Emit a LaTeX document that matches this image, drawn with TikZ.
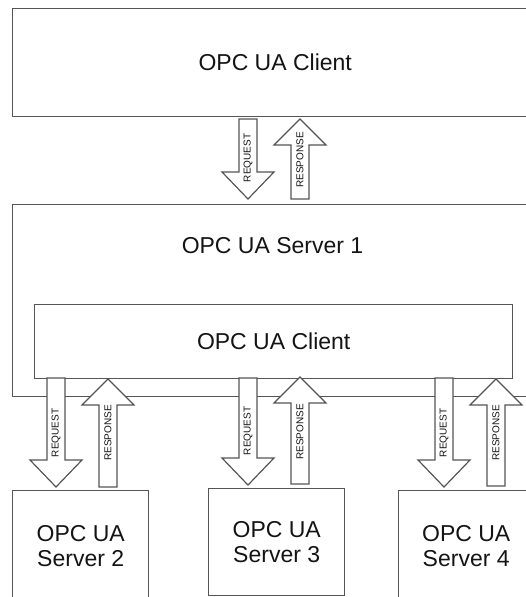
\documentclass[tikz,border=0pt]{standalone}
\usepackage{fontspec}
\setmainfont{Liberation Sans}
\definecolor{edge}{RGB}{85,85,85}
\definecolor{txt}{RGB}{20,20,20}
% request arrow: cx, top, tip, label y, name
\newcommand\reqarrow[5]{%
  \draw[blockarrow] (#1-9,#2) -- (#1+9,#2) -- (#1+9,#3-27) -- (#1+26,#3-27) -- (#1,#3)
     -- (#1-26,#3-27) -- (#1-9,#3-27) -- cycle;
  \node[arrowtext] (#5) at (#1,#4) {REQUEST};}
% response arrow: cx, tip, bottom, label y, name
\newcommand\resarrow[5]{%
  \draw[blockarrow] (#1-9,#3) -- (#1+9,#3) -- (#1+9,#2+26) -- (#1+26,#2+26) -- (#1,#2)
     -- (#1-26,#2+26) -- (#1-9,#2+26) -- cycle;
  \node[arrowtext] (#5) at (#1,#4) {RESPONSE};}
\begin{document}
\begin{tikzpicture}[x=1pt,y=-1pt,
  box/.style={draw=edge,line width=1.4pt,fill=white,inner sep=0pt,anchor=north west,
    align=center,text=txt,font=\fontsize{23}{25}\selectfont},
  bigtext/.style={text=txt,inner sep=0pt,font=\fontsize{23}{25}\selectfont},
  blockarrow/.style={draw=edge,line width=1.2pt,fill=white,line join=miter},
  arrowtext/.style={rotate=90,font=\fontsize{10}{12}\selectfont,text=txt,inner sep=0pt}]
\useasboundingbox (0,0) rectangle (525,597);
\fill[white] (0,0) rectangle (525,597);

\node[box,minimum width=525pt,minimum height=108pt] (client) at (12,8) {OPC UA Client};
\node[box,minimum width=525pt,minimum height=192pt] (server1) at (12,204) {};
\node[bigtext] (s1text) at (272.5,246) {OPC UA Server 1};
\node[box,minimum width=478pt,minimum height=74pt] (inner) at (34,304) {OPC UA Client};
\node[box,minimum width=136pt,minimum height=110pt] (server2) at (12,490) {OPC UA\\Server 2};
\node[box,minimum width=136pt,minimum height=107pt] (server3) at (208,488) {OPC UA\\Server 3};
\node[box,minimum width=135pt,minimum height=110pt] (server4) at (398,490) {OPC UA\\Server 4};

\reqarrow{248}{119}{199}{158}{rq0}
\resarrow{300}{119}{199}{160}{rs0}

\reqarrow{56}{378}{487}{433}{rq2}
\resarrow{108}{379}{487}{433}{rs2}
\reqarrow{248}{378}{485}{431}{rq3}
\resarrow{300}{377}{484}{432}{rs3}
\reqarrow{444}{378}{487}{433}{rq4}
\resarrow{496}{379}{486}{433}{rs4}
\end{tikzpicture}
\end{document}
